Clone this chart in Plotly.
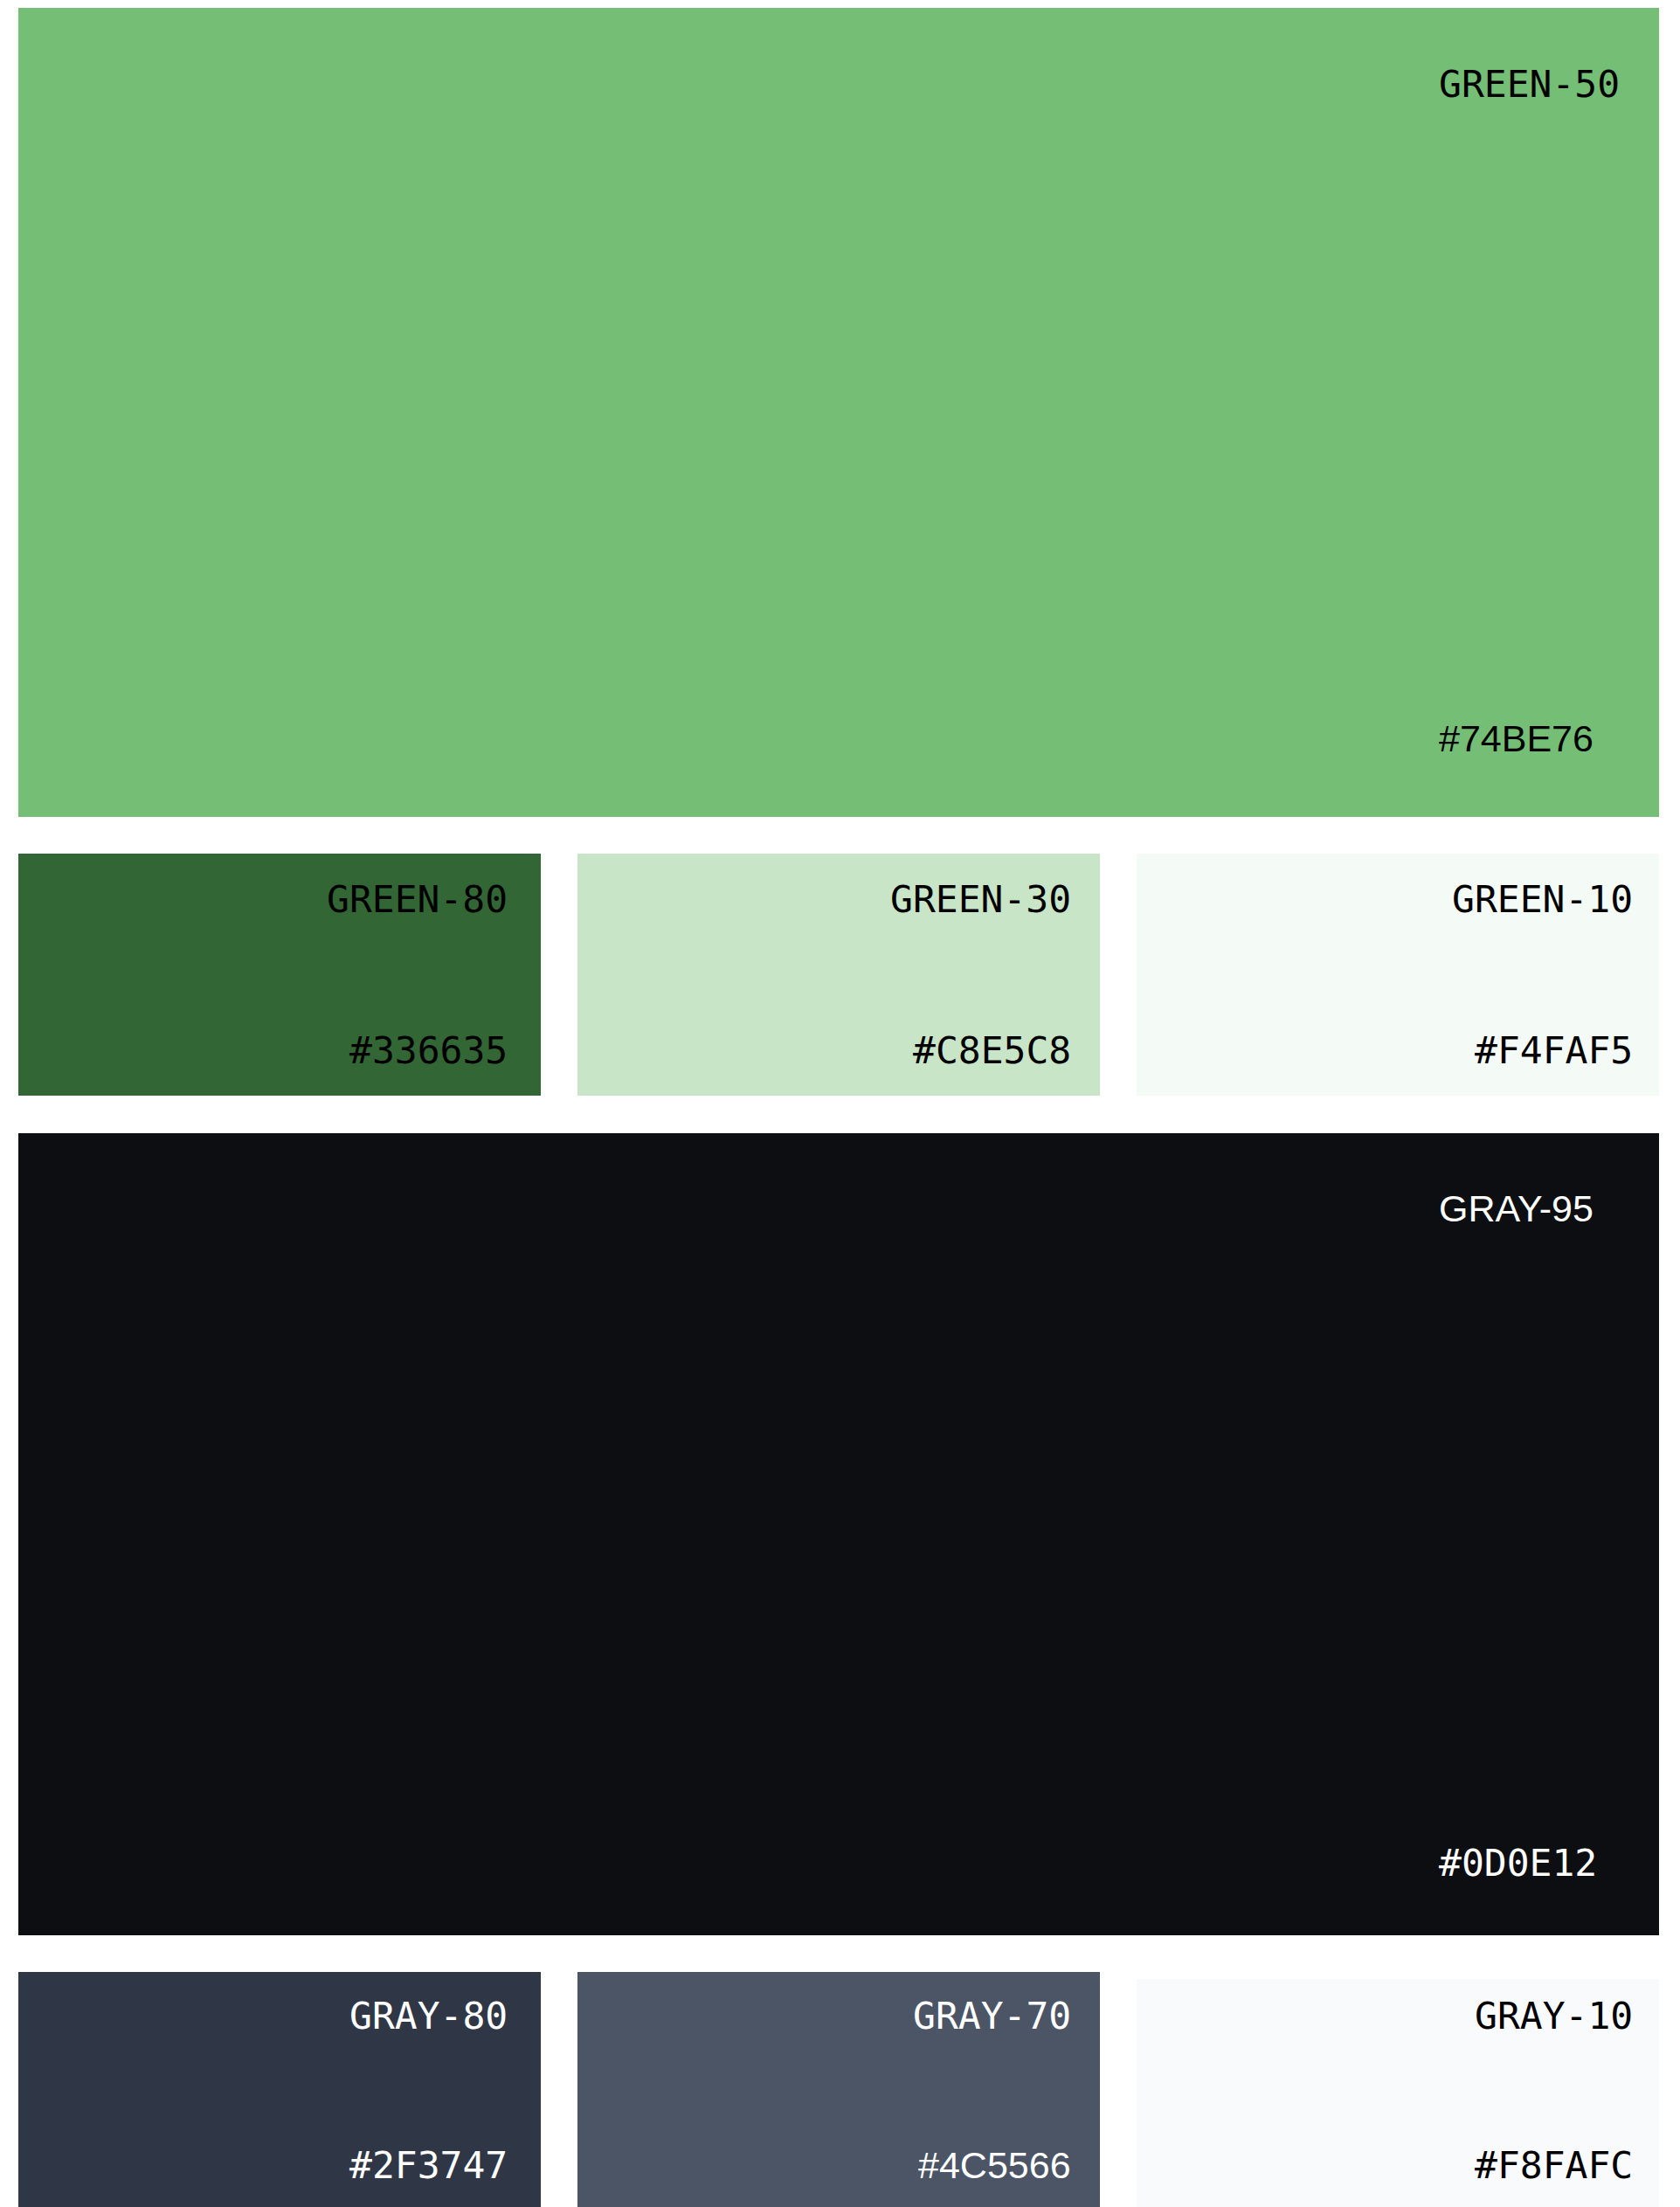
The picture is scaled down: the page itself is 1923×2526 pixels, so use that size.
import plotly.graph_objects as go

# ---- data ----
swatch_names = ["GREEN-50", "GREEN-80", "GREEN-30", "GREEN-10",
                "GRAY-95", "GRAY-80", "GRAY-70", "GRAY-10"]
swatch_hex = ["#74BE76", "#336635", "#C8E5C8", "#F4FAF5",
              "#0D0E12", "#2F3747", "#4C5566", "#F8FAFC"]

# ---- layout (page pixel coordinates) ----
W, H = 1923, 2526
LEFT = 21
COL_W = 598
GAP = 42
FULL_W = 3 * COL_W + 2 * GAP
col = lambda k: (LEFT + k * (COL_W + GAP), LEFT + k * (COL_W + GAP) + COL_W)
rects = [
    (LEFT, LEFT + FULL_W, 9, 935),
    (*col(0), 977, 1254),
    (*col(1), 977, 1254),
    (*col(2), 977, 1254),
    (LEFT, LEFT + FULL_W, 1297, 2215),
    (*col(0), 2257, H),
    (*col(1), 2257, H),
    (*col(2), 2265, H),
]
# label placement: (anchor x, xanchor, name cap-centre y, hex cap-centre y)
text_pos = [
    (1647, "left", 96, 845),
    (581, "right", 1029, 1202),
    (1226, "right", 1029, 1202),
    (1869, "right", 1029, 1202),
    (1647, "left", 1383, 2132),
    (581, "right", 2307, 2478),
    (1226, "right", 2307, 2478),
    (1869, "right", 2307, 2478),
]
text_col = ["#000000", "#000000", "#000000", "#000000",
            "#FFFFFF", "#FFFFFF", "#FFFFFF", "#000000"]
MONO = "DejaVu Sans Mono"
SANS = "Liberation Sans"
name_font = [MONO, MONO, MONO, MONO, SANS, MONO, MONO, MONO]
hex_font = [SANS, MONO, MONO, MONO, MONO, MONO, SANS, MONO]
FS = 43

fig = go.Figure()
shapes = []
annotations = []
for i, (nm, hx) in enumerate(zip(swatch_names, swatch_hex)):
    x0, x1, y0, y1 = rects[i]
    shapes.append(dict(type="rect", xref="x", yref="y", x0=x0, x1=x1, y0=y0, y1=y1,
                       fillcolor=hx, line=dict(width=0), layer="below"))
    ax, xa, yn, yh = text_pos[i]
    annotations.append(dict(x=ax, y=yn, xref="x", yref="y", text=nm, showarrow=False,
                            xanchor=xa, yanchor="middle", borderpad=0, borderwidth=0,
                            font=dict(family=name_font[i], size=FS, color=text_col[i])))
    annotations.append(dict(x=ax, y=yh, xref="x", yref="y", text=hx, showarrow=False,
                            xanchor=xa, yanchor="middle", borderpad=0, borderwidth=0,
                            font=dict(family=hex_font[i], size=FS, color=text_col[i])))

# invisible trace to establish axes
fig.add_trace(go.Scatter(x=[0, W], y=[0, H], mode="markers",
                         marker=dict(opacity=0), hoverinfo="skip", showlegend=False))

fig.update_layout(
    width=W, height=H,
    margin=dict(l=0, r=0, t=0, b=0, pad=0),
    paper_bgcolor="#FFFFFF", plot_bgcolor="#FFFFFF",
    shapes=shapes, annotations=annotations, showlegend=False,
    xaxis=dict(range=[0, W], visible=False, showgrid=False, zeroline=False, fixedrange=True),
    yaxis=dict(range=[H, 0], visible=False, showgrid=False, zeroline=False, fixedrange=True),
)
fig.write_html("out.html", config={"displayModeBar": False},
               post_script="document.body.style.margin='0';document.body.style.overflow='hidden';")
